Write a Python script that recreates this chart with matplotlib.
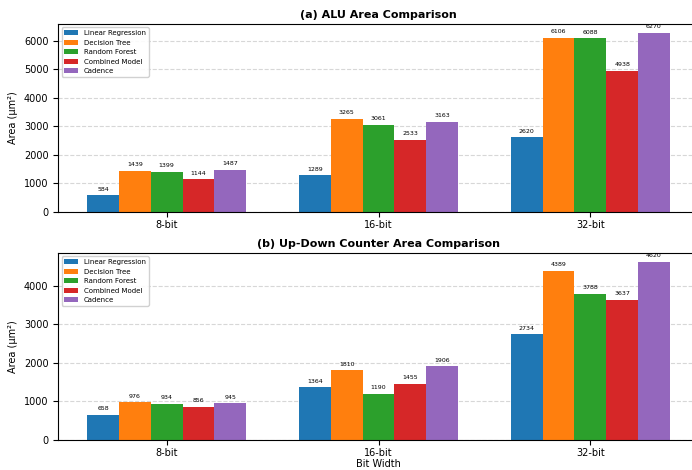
import matplotlib.pyplot as plt
import numpy as np

# datos
bits = ['8-bit', '16-bit', '32-bit']
modelos = ['Linear Regression', 'Decision Tree', 'Random Forest', 'Combined Model', 'Cadence']
colores = ['#1f77b4', '#ff7f0e', '#2ca02c', '#d62728', '#9467bd']

alu_lr = [584, 1289, 2620]
alu_dt = [1439, 3265, 6106]
alu_rf = [1399, 3061, 6088]
alu_cm = [1144, 2533, 4938]
alu_cad = [1487, 3163, 6270]

cnt_lr = [658, 1364, 2734]
cnt_dt = [976, 1810, 4389]
cnt_rf = [934, 1190, 3788]
cnt_cm = [856, 1455, 3637]
cnt_cad = [945, 1906, 4620]

fig = plt.figure(figsize=(6.92, 4.70), dpi=100)
# la figura original esta recortada a la derecha
ax1 = fig.add_axes([0.084, 0.549, 0.926, 0.400])
ax2 = fig.add_axes([0.084, 0.064, 0.926, 0.398])

def panel(ax, series, titulo, ultimo=False):
    x = np.arange(len(bits))
    w = 0.15
    tope = max(max(s) for s in series)
    for i, (vals, nom, col) in enumerate(zip(series, modelos, colores)):
        b = ax.bar(x + (i - 2) * w, vals, w, label=nom, color=col)
        for r, v in zip(b, vals):
            ax.text(r.get_x() + r.get_width() / 2, v + tope * 0.02,
                    str(v), ha='center', va='bottom', fontsize=4.5)
    ax.set_xticks(x)
    ax.set_xticklabels(bits, fontsize=7)
    ax.tick_params(axis='x', pad=2)
    ax.tick_params(axis='y', labelsize=7)
    ax.set_ylabel('Area (µm²)', fontsize=7)
    ax.set_title(titulo, fontsize=8, fontweight='bold', pad=4)
    ax.grid(axis='y', linestyle='--', alpha=0.5)
    ax.set_axisbelow(True)
    ax.legend(loc='upper left', fontsize=5, framealpha=0.9)
    if ultimo:
        ax.set_xlabel('Bit Width', fontsize=7, labelpad=1)

panel(ax1, [alu_lr, alu_dt, alu_rf, alu_cm, alu_cad], '(a) ALU Area Comparison')
panel(ax2, [cnt_lr, cnt_dt, cnt_rf, cnt_cm, cnt_cad], '(b) Up-Down Counter Area Comparison', True)

plt.savefig('out.png', dpi=100)
